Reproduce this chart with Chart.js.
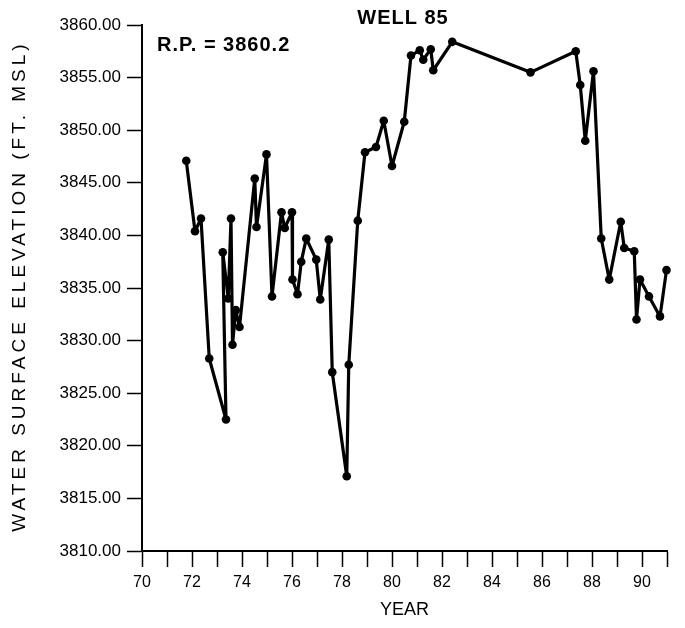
<!DOCTYPE html>
<html>
<head>
<meta charset="utf-8">
<script src="https://cdn.jsdelivr.net/npm/chart.js@4/dist/chart.umd.min.js"></script>
<style>
  html, body { margin: 0; padding: 0; background: #fff; }
  #wrap { width: 685px; height: 628px; }
</style>
</head>
<body>
<div id="wrap"><canvas id="wellChart" width="685" height="628"></canvas></div>
<script>
// Well 85 water levels, decimal year (19xx) vs. elevation in ft MSL
const years = [
  71.77, 72.12, 72.36, 72.69, 73.36, 73.23, 73.45, 73.56, 73.62, 73.75,
  73.9, 74.51, 74.58, 74.98, 75.2, 75.58, 75.71, 76.0, 76.02, 76.22,
  76.37, 76.57, 76.97, 77.13, 77.47, 77.61, 78.19, 78.27, 78.63, 78.92,
  79.36, 79.67, 80.0, 80.49, 80.76, 81.11, 81.25, 81.55, 81.65, 82.41,
  85.54, 87.35, 87.53, 87.73, 88.06, 88.37, 88.69, 89.15, 89.29, 89.69,
  89.78, 89.92, 90.28, 90.72, 90.98,
];
const levels = [
  3847.1, 3840.4, 3841.6, 3828.3, 3822.5, 3838.4, 3834.0, 3841.6, 3829.6, 3832.9,
  3831.3, 3845.4, 3840.8, 3847.7, 3834.2, 3842.2, 3840.7, 3842.2, 3835.8, 3834.4,
  3837.5, 3839.7, 3837.7, 3833.9, 3839.6, 3827.0, 3817.1, 3827.7, 3841.4, 3847.9,
  3848.4, 3850.9, 3846.6, 3850.8, 3857.1, 3857.6, 3856.7, 3857.7, 3855.7, 3858.4,
  3855.5, 3857.5, 3854.3, 3849.0, 3855.6, 3839.7, 3835.8, 3841.3, 3838.8, 3838.5,
  3832.0, 3835.8, 3834.2, 3832.3, 3836.7,
];
const yearLabels = [70, 72, 74, 76, 78, 80, 82, 84, 86, 88, 90];

const FONT = '"Liberation Sans", Arial, Helvetica, sans-serif';

// titles drawn by hand so the letter spacing can be set
const textPlugin = {
  id: 'wellText',
  afterDraw(chart) {
    const ctx = chart.ctx;
    const area = chart.chartArea;
    ctx.save();
    ctx.fillStyle = '#000';
    ctx.textBaseline = 'middle';

    ctx.letterSpacing = '1px';
    ctx.font = 'bold 20px ' + FONT;
    ctx.textAlign = 'center';
    ctx.fillText('WELL 85', 403, 18);

    ctx.textAlign = 'left';
    ctx.fillText('R.P. = 3860.2', 157, 45);

    ctx.letterSpacing = '0px';
    ctx.font = '18px ' + FONT;
    ctx.textAlign = 'center';
    ctx.fillText('YEAR', (area.left + area.right) / 2, 610);

    ctx.translate(20, (area.top + area.bottom) / 2);
    ctx.rotate(-Math.PI / 2);
    ctx.letterSpacing = '4px';
    ctx.font = '19px ' + FONT;
    ctx.fillText('WATER SURFACE ELEVATION (FT. MSL)', 2, 0);
    ctx.restore();
  },
};

const ctx = document.getElementById('wellChart');
const wellChart = new Chart(ctx, {
  type: 'scatter',
  data: {
    datasets: [
      {
        data: years.map((yr, i) => ({ x: yr, y: levels[i] })),
        showLine: true,
        clip: false,
        borderColor: '#000',
        borderWidth: 3.2,
        borderJoinStyle: 'round',
        borderCapStyle: 'round',
        backgroundColor: '#000',
        pointRadius: 4.3,
        pointBorderWidth: 0,
      },
    ],
  },
  options: {
    responsive: false,
    animation: false,
    layout: { padding: { top: 25, right: 18, bottom: 0, left: 0 } },
    plugins: {
      legend: { display: false },
      tooltip: { enabled: false },
      title: { display: false },
    },
    scales: {
      x: {
        type: 'linear',
        min: 70,
        max: 91,
        afterFit: (scale) => {
          scale.height = 77;
        },
        afterBuildTicks: (scale) => {
          const t = [];
          for (let v = 70; v <= 91; v++) t.push({ value: v });
          scale.ticks = t;
        },
        ticks: {
          autoSkip: false,
          maxRotation: 0,
          color: '#000',
          padding: 6,
          font: { family: FONT, size: 16 },
          callback: (v) => (yearLabels.includes(v) ? String(v) : ''),
        },
        grid: {
          drawOnChartArea: false,
          tickLength: 16,
          tickWidth: 1.5,
          tickColor: '#000',
        },
        border: { color: '#000', width: 2 },
      },
      y: {
        min: 3810,
        max: 3860,
        afterFit: (scale) => {
          scale.width = 142;
        },
        ticks: {
          stepSize: 5,
          color: '#000',
          padding: 6,
          font: { family: FONT, size: 17 },
          callback: (v) => v.toFixed(2),
        },
        grid: {
          drawOnChartArea: false,
          tickLength: 15,
          tickWidth: 1.5,
          tickColor: '#000',
        },
        border: { color: '#000', width: 2 },
      },
    },
  },
  plugins: [textPlugin],
});
</script>
</body>
</html>
